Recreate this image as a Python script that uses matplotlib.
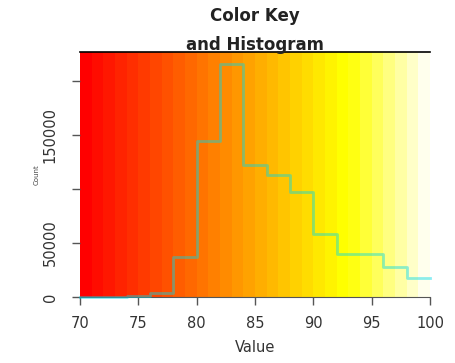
## Color key with histogram, in the style of an R heatmap.2 key
import numpy as np
import matplotlib.pyplot as plt
from matplotlib.colors import hsv_to_rgb

## histogram breaks and counts
breaks = [70, 72, 74, 76, 78, 80, 82, 84, 86, 88, 90, 92, 94, 96, 98, 100]
counts = [0, 300, 1000, 4000, 37000, 144000, 215000, 122000, 113000,
          97000, 58000, 40000, 40000, 28000, 18000]

## colour key: 30 bands of heat colours between 70 and 100
n_colors = 30
key_lo, key_hi = 70, 100

x_ticks = [70, 75, 80, 85, 90, 95, 100]
y_ticks = [0, 50000, 100000, 150000, 200000]
y_labels = ["0", "50000", "", "150000", ""]


def heat_colors(n):
    ## same recipe as R's heat.colors()
    j = n // 4
    i = n - j
    cols = [hsv_to_rgb((h, 1, 1)) for h in np.linspace(0, 1 / 6, i)]
    if j > 0:
        for s in np.linspace(1 - 1 / (2 * j), 1 / (2 * j), j):
            cols.append(hsv_to_rgb((1 / 6, s, 1)))
    return cols


fig = plt.figure(figsize=(4.56, 3.63), dpi=100)
ax = fig.add_axes([0.1754, 0.1818, 0.7675, 0.6749])

## colour bands
edges = np.linspace(key_lo, key_hi, n_colors + 1)
cols = heat_colors(n_colors)
ymax = max(counts) / 0.95
for k in range(n_colors):
    ax.axvspan(edges[k], edges[k + 1], color=cols[k], lw=0, zorder=1)

## histogram as stairs
hy = counts + [counts[-1]]
ax.step(breaks, hy, where="post", color="#00d8e8", alpha=0.45, lw=2,
        zorder=3, clip_on=False)

ax.set_xlim(key_lo, key_hi)
ax.set_ylim(0, ymax)

## axes look
ax.spines["right"].set_visible(False)
ax.spines["left"].set_visible(False)
ax.spines["top"].set_color("black")
ax.spines["top"].set_linewidth(1.2)
ax.spines["bottom"].set_color("#555555")

ax.set_xticks(x_ticks)
ax.set_xticklabels([str(v) for v in x_ticks])
ax.set_yticks(y_ticks)
ax.set_yticklabels(y_labels, rotation=90, va="center")
ax.tick_params(axis="both", colors="#555555", labelcolor="#333333",
               labelsize=10.5, length=6, width=1, pad=8)
ax.tick_params(axis="y", pad=10)

ax.set_xlabel("Value", fontsize=10.5, color="#333333", labelpad=6)
ax.set_ylabel("Count", fontsize=5, color="#444444", labelpad=2)

fig.text(0.56, 0.955, "Color Key", ha="center", va="center", fontsize=12,
         fontweight="bold", color="#222222")
fig.text(0.56, 0.875, "and Histogram", ha="center", va="center", fontsize=12,
         fontweight="bold", color="#222222")

plt.savefig("out.png", dpi=100)
